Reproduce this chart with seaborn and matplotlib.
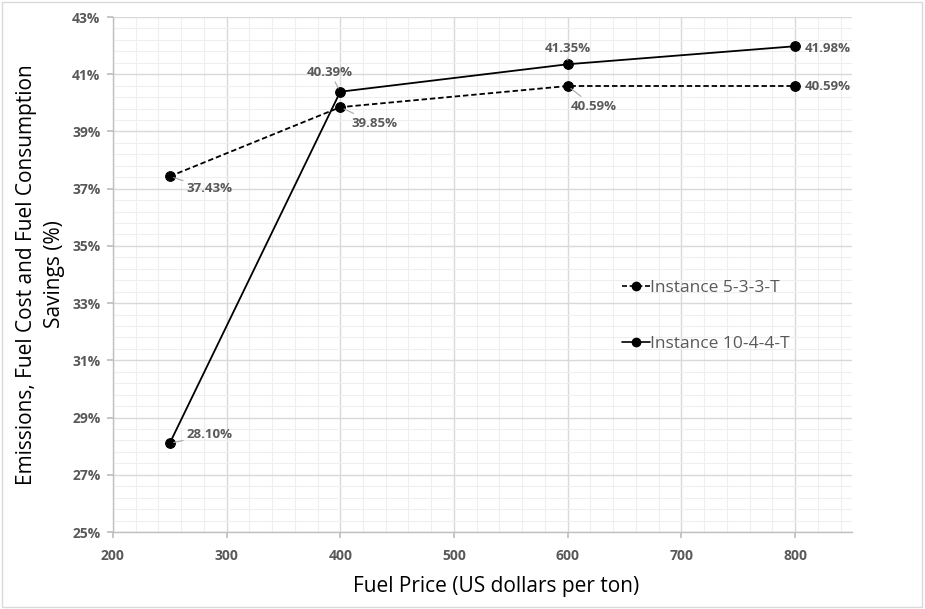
import matplotlib
matplotlib.use("Agg")
import matplotlib.pyplot as plt
from matplotlib.ticker import FixedLocator, FuncFormatter
from matplotlib.lines import Line2D
from matplotlib.patches import Rectangle
import seaborn as sns
import pandas as pd
import numpy as np

# Fuel price levels (US dollars per ton)
fuel_price = [250, 400, 600, 800]
# Savings (%) for each instance
savings_5_3_3 = [37.43, 39.85, 40.59, 40.59]
savings_10_4_4 = [28.10, 40.39, 41.35, 41.98]
series_names = ["Instance 5-3-3-T", "Instance 10-4-4-T"]

df = pd.DataFrame({
    "price": fuel_price * 2,
    "saving": savings_5_3_3 + savings_10_4_4,
    "instance": [series_names[0]] * 4 + [series_names[1]] * 4,
})

sns.set_theme(style="white")
plt.rcParams["font.family"] = ["Open Sans", "DejaVu Sans"]

fig = plt.figure(figsize=(9.25, 6.09), dpi=100)
ax = fig.add_axes([0.122, 0.1264, 0.799, 0.8456])

sns.lineplot(
    data=df, x="price", y="saving", style="instance",
    style_order=series_names,
    dashes={series_names[0]: (3, 1.6), series_names[1]: ""},
    color="black", linewidth=1.3, marker="o", markersize=7,
    markeredgecolor="black", markerfacecolor="black",
    legend=False, ax=ax, sort=False,
)

ax.set_xlim(200, 850)
ax.set_ylim(25, 43)
ax.xaxis.set_major_locator(FixedLocator(np.arange(200, 801, 100)))
ax.xaxis.set_minor_locator(FixedLocator(np.arange(200, 851, 20)))
ax.yaxis.set_major_locator(FixedLocator(np.arange(25, 43.1, 2)))
ax.yaxis.set_minor_locator(FixedLocator(np.arange(25, 43.01, 0.4)))
ax.yaxis.set_major_formatter(FuncFormatter(lambda v, p: f"{v:.0f}%"))
ax.xaxis.set_major_formatter(FuncFormatter(lambda v, p: f"{v:.0f}"))

ax.grid(which="major", color="#d9d9d9", linewidth=1.0)
ax.grid(which="minor", color="#efefef", linewidth=0.8)
ax.set_axisbelow(True)

for side in ["top", "right"]:
    ax.spines[side].set_visible(False)
for side in ["left", "bottom"]:
    ax.spines[side].set_color("#bfbfbf")
    ax.spines[side].set_linewidth(1.0)

ax.tick_params(axis="both", which="major", length=4, color="#bfbfbf", direction="out",
               labelsize=10, labelcolor="#595959", left=True, bottom=True)
ax.tick_params(axis="y", which="major", pad=5)
ax.tick_params(axis="x", which="major", pad=8)
ax.tick_params(axis="both", which="minor", length=0)
for lbl in ax.get_xticklabels() + ax.get_yticklabels():
    lbl.set_fontweight("bold")

ax.set_xlabel("Fuel Price (US dollars per ton)", fontsize=15, color="black")
ax.xaxis.set_label_coords(0.518, -0.086)
ax.set_ylabel("Emissions, Fuel Cost and Fuel Consumption\nSavings (%)", fontsize=15,
              color="black", labelpad=5, linespacing=1.45)

# Data labels with leader lines (offsets in points from each marker)
label_offsets = {
    (series_names[0], 0): (12, -9),
    (series_names[0], 1): (8, -11.5),
    (series_names[0], 2): (2, -14.5),
    (series_names[0], 3): (7, -0.5),
    (series_names[1], 0): (12, 6),
    (series_names[1], 1): (-24, 14),
    (series_names[1], 2): (-16.5, 11.5),
    (series_names[1], 3): (7, -1.5),
}
for name, vals in zip(series_names, [savings_5_3_3, savings_10_4_4]):
    for i, (xv, yv) in enumerate(zip(fuel_price, vals)):
        dx, dy = label_offsets[(name, i)]
        ax.annotate(
            f"{yv:.2f}%", xy=(xv, yv), xytext=(dx, dy), textcoords="offset points",
            ha="left", va="center", fontsize=9.5, fontweight="bold", color="#595959",
            arrowprops=dict(arrowstyle="-", color="#a6a6a6", lw=0.8,
                            shrinkA=0, shrinkB=3) if i < 3 else None,
        )

handles = [
    Line2D([0], [0], color="black", lw=1.2, ls=(0, (3, 1.6)), marker="o", markersize=6),
    Line2D([0], [0], color="black", lw=1.2, marker="o", markersize=6),
]
leg = ax.legend(handles, series_names, loc="center left", bbox_to_anchor=(0.673, 0.42),
                frameon=False, fontsize=12.5, labelspacing=2.3, handlelength=1.6,
                handletextpad=0.0, borderpad=0.2)
for t in leg.get_texts():
    t.set_color("#595959")

# Outer chart frame
fig.patches.append(Rectangle((0.002, 0.003), 0.995, 0.994, transform=fig.transFigure,
                             fill=False, edgecolor="#d9d9d9", linewidth=1.0))

fig.savefig("out.png", dpi=100)
